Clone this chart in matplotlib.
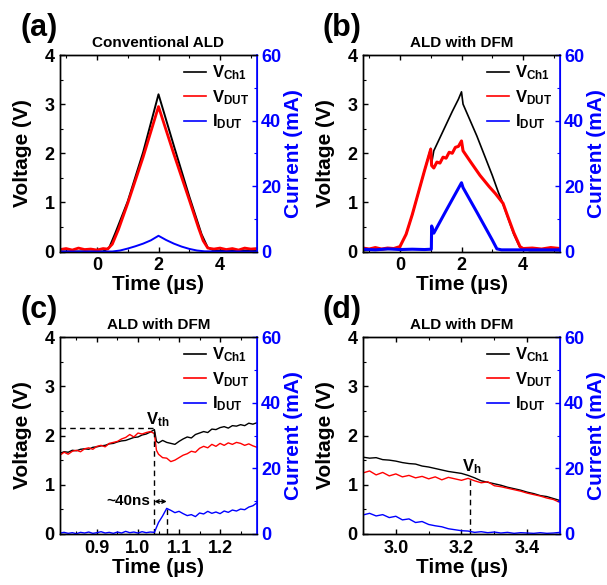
import matplotlib
matplotlib.use('Agg')
import matplotlib.pyplot as plt
from matplotlib.ticker import MultipleLocator
from matplotlib.lines import Line2D

plt.rcParams['font.family'] = ['Liberation Sans', 'DejaVu Sans']
plt.rcParams['font.weight'] = 'bold'
plt.rcParams['mathtext.fontset'] = 'custom'
plt.rcParams['mathtext.rm'] = 'Liberation Sans:bold'
plt.rcParams['mathtext.bf'] = 'Liberation Sans:bold'
plt.rcParams['mathtext.it'] = 'Liberation Sans:bold'

# ---- panel (a): conventional ALD ----
a_t_ch1 = [-1.2, 0.2, 0.4, 0.6, 1.0, 1.5, 2.0, 2.5, 3.0, 3.4, 3.6, 3.8, 5.2]
a_v_ch1 = [0.0, 0.0, 0.08, 0.38, 1.02, 2.02, 3.2, 2.15, 1.12, 0.35, 0.08, 0.02, 0.02]
a_t_dut = [-1.2, -1.0, -0.8, -0.6, -0.4, -0.2, 0.0, 0.2, 0.35, 0.5, 0.7, 1.0, 1.5, 2.0,
           2.5, 3.0, 3.3, 3.45, 3.6, 3.8, 4.0, 4.2, 4.4, 4.6, 4.8, 5.0, 5.2]
a_v_dut = [0.04, 0.06, 0.03, 0.07, 0.04, 0.05, 0.03, 0.06, 0.05, 0.15, 0.45, 0.98, 1.92, 2.95,
           1.98, 1.05, 0.48, 0.22, 0.07, 0.05, 0.07, 0.04, 0.06, 0.03, 0.07, 0.05, 0.06]
a_t_i = [-1.2, 0.5, 0.75, 1.0, 1.25, 1.5, 1.75, 2.0, 2.25, 2.5, 2.75, 3.0, 3.25, 3.5, 5.2]
a_i_dut = [0.0, 0.0, 0.3, 0.9, 1.6, 2.4, 3.4, 4.8, 3.5, 2.4, 1.5, 0.8, 0.3, 0.05, 0.0]

# ---- panel (b): ALD with DFM ----
b_t_ch1 = [-1.2, -0.2, 0.0, 0.2, 0.4, 0.6, 0.8, 1.0, 1.03, 1.1, 1.4, 1.7, 1.9, 2.0, 2.05,
           2.5, 3.0, 3.2, 3.3, 3.5, 3.7, 3.9, 4.2, 5.2]
b_v_ch1 = [0.02, 0.05, 0.1, 0.35, 0.75, 1.2, 1.65, 2.1, 1.8, 2.05, 2.45, 2.85, 3.1, 3.25, 3.0,
           2.35, 1.55, 1.2, 1.05, 0.7, 0.35, 0.08, 0.02, 0.02]
b_t_dut = [-1.2, -1.0, -0.8, -0.6, -0.4, -0.2, 0.0, 0.2, 0.4, 0.6, 0.8, 1.0, 1.03, 1.1, 1.2,
           1.3, 1.4, 1.5, 1.6, 1.7, 1.8, 1.9, 2.0, 2.05, 2.3, 2.6, 2.9, 3.1, 3.25, 3.35, 3.5,
           3.7, 3.9, 4.0, 4.3, 4.6, 4.9, 5.2]
b_v_dut = [0.07, 0.05, 0.08, 0.05, 0.07, 0.06, 0.1, 0.35, 0.75, 1.2, 1.65, 2.08, 1.75, 1.7, 1.82,
           1.8, 1.92, 1.9, 2.02, 2.0, 2.12, 2.14, 2.25, 2.05, 1.82, 1.55, 1.32, 1.18, 1.06, 0.98,
           0.72, 0.38, 0.1, 0.06, 0.07, 0.05, 0.08, 0.06]
b_t_i = [-1.2, -0.8, -0.4, 0.0, 0.4, 0.8, 1.02, 1.03, 1.1, 1.5, 2.0, 2.05, 2.5, 3.0, 3.15,
         3.3, 4.0, 5.2]
b_i_dut = [0.7, 0.5, 0.8, 0.6, 0.7, 0.6, 0.7, 7.8, 5.6, 12.5, 21.0, 19.5, 12.0, 3.5, 0.8,
           0.5, 0.5, 0.5]

# ---- panel (c): zoom on turn-on ----
c_t = [0.81, 0.82, 0.83, 0.84, 0.85, 0.86, 0.87, 0.88, 0.89, 0.90, 0.91, 0.92, 0.93, 0.94,
       0.95, 0.96, 0.97, 0.98, 0.99, 1.00, 1.01, 1.02, 1.03, 1.04, 1.045, 1.05, 1.06, 1.07,
       1.08, 1.09, 1.10, 1.11, 1.12, 1.13, 1.14, 1.15, 1.16, 1.17, 1.18, 1.19, 1.20, 1.21,
       1.22, 1.23, 1.24, 1.25, 1.26, 1.27, 1.28, 1.29]
c_v_ch1 = [1.64, 1.67, 1.66, 1.70, 1.69, 1.72, 1.73, 1.72, 1.76, 1.77, 1.79, 1.80, 1.83, 1.84,
           1.87, 1.89, 1.90, 1.93, 1.96, 1.97, 2.01, 2.03, 2.07, 2.12, 1.88, 1.85, 1.90, 1.86,
           1.84, 1.82, 1.88, 1.93, 1.97, 1.95, 2.02, 2.05, 2.08, 2.06, 2.13, 2.12, 2.16, 2.18,
           2.15, 2.20, 2.19, 2.22, 2.20, 2.25, 2.23, 2.26]
c_v_dut = [1.60, 1.66, 1.62, 1.68, 1.70, 1.67, 1.73, 1.75, 1.72, 1.78, 1.80, 1.77, 1.84, 1.86,
           1.88, 1.93, 1.96, 2.02, 1.97, 2.05, 2.03, 2.06, 2.08, 2.04, 1.70, 1.62, 1.55, 1.54,
           1.47, 1.50, 1.55, 1.60, 1.63, 1.68, 1.66, 1.74, 1.78, 1.75, 1.82, 1.78, 1.84, 1.80,
           1.85, 1.82, 1.86, 1.84, 1.80, 1.83, 1.79, 1.76]
c_i_dut = [0.3, 0.5, 0.2, 0.4, 0.1, 0.5, 0.3, 0.6, 0.2, 0.4, 0.7, 0.3, 0.5, 0.2,
           0.6, 0.3, 0.8, 0.4, 0.6, 0.3, 0.7, 0.4, 0.6, 0.5, 2.0, 3.5, 5.5, 7.8,
           7.2, 6.5, 6.9, 6.2, 5.6, 5.9, 5.3, 6.4, 6.1, 6.9, 6.3, 6.7, 6.2, 7.0,
           6.6, 7.3, 7.0, 7.6, 7.4, 8.2, 8.6, 9.5]

# ---- panel (d): zoom on turn-off ----
d_t = [2.90, 2.92, 2.94, 2.96, 2.98, 3.00, 3.02, 3.04, 3.06, 3.08, 3.10, 3.12, 3.14, 3.16,
       3.18, 3.20, 3.22, 3.24, 3.26, 3.28, 3.30, 3.32, 3.34, 3.36, 3.38, 3.40, 3.42, 3.44,
       3.46, 3.48, 3.50]
d_v_ch1 = [1.56, 1.54, 1.55, 1.51, 1.50, 1.48, 1.45, 1.43, 1.42, 1.38, 1.36, 1.33, 1.30, 1.27,
           1.25, 1.23, 1.19, 1.14, 1.08, 1.05, 1.02, 0.99, 0.95, 0.92, 0.89, 0.85, 0.82, 0.78,
           0.76, 0.72, 0.68]
d_v_dut = [1.24, 1.28, 1.20, 1.25, 1.18, 1.22, 1.16, 1.19, 1.14, 1.17, 1.12, 1.16, 1.10, 1.15,
           1.12, 1.09, 1.13, 1.08, 1.04, 1.06, 0.98, 0.96, 0.93, 0.90, 0.87, 0.83, 0.80, 0.77,
           0.73, 0.70, 0.64]
d_i_dut = [5.8, 6.3, 5.5, 5.9, 5.0, 5.4, 4.3, 4.6, 3.5, 3.8, 2.9, 2.5, 2.2, 1.6,
           1.3, 1.0, 0.9, 0.5, 0.7, 0.4, 0.6, 0.3, 0.5, 0.2, 0.4, 0.3, 0.2, 0.4,
           0.2, 0.3, 0.5]

titles = ['Conventional ALD', 'ALD with DFM', 'ALD with DFM', 'ALD with DFM']
letters = ['(a)', '(b)', '(c)', '(d)']
leg_labels = [r'$\mathbf{V_{Ch1}}$', r'$\mathbf{V_{DUT}}$', r'$\mathbf{I_{DUT}}$']

W, H = 607, 585
fig = plt.figure(figsize=(W / 100, H / 100), dpi=100)

# axes boxes in pixels: left, top, right, bottom
boxes = [(60, 55, 257, 251.5), (363, 55, 560, 251.5),
         (60, 337, 257, 534), (363, 337, 560, 534)]


def make_axes(box):
    l, t, r, b = box
    ax = fig.add_axes([l / W, 1 - b / H, (r - l) / W, (b - t) / H])
    ax2 = ax.twinx()
    return ax, ax2


def style(ax, ax2, xlim, xmaj, xmin, title):
    ax.set_xlim(*xlim)
    ax.set_ylim(0, 4)
    ax2.set_ylim(0, 60)
    ax.xaxis.set_major_locator(MultipleLocator(xmaj))
    ax.xaxis.set_minor_locator(MultipleLocator(xmin))
    ax.yaxis.set_major_locator(MultipleLocator(1))
    ax.yaxis.set_minor_locator(MultipleLocator(0.5))
    ax2.yaxis.set_major_locator(MultipleLocator(20))
    ax2.yaxis.set_minor_locator(MultipleLocator(10))
    ax.tick_params(which='both', direction='in', top=True, labelsize=13, pad=4)
    ax.tick_params(which='major', length=3.5, width=1)
    ax.tick_params(which='minor', length=2, width=0.8)
    ax2.tick_params(which='both', direction='in', colors='blue', labelsize=13, pad=3)
    ax2.tick_params(which='major', length=3.5, width=1)
    ax2.tick_params(which='minor', length=2, width=0.8)
    for sp in ['left', 'top', 'bottom']:
        ax.spines[sp].set_linewidth(1)
        ax2.spines[sp].set_linewidth(1)
    ax.spines['right'].set_color('blue')
    ax2.spines['right'].set_color('blue')
    ax2.spines['right'].set_linewidth(1.2)
    ax.set_xlabel('Time (\u00b5s)', fontsize=15, fontweight='bold', labelpad=1)
    ax.set_ylabel('Voltage (V)', fontsize=15, fontweight='bold', labelpad=9)
    ax2.set_ylabel('Current (mA)', fontsize=15, fontweight='bold', color='blue', labelpad=2)
    ax.set_title(title, fontsize=11, fontweight='bold', pad=6)


# per panel: traces, xlim, major/minor x step, line widths (black, red, blue)
panels = [
    (a_t_ch1, a_v_ch1, a_t_dut, a_v_dut, a_t_i, a_i_dut, (-1.2, 5.2), 2, 1, (1.4, 2.0, 1.4)),
    (b_t_ch1, b_v_ch1, b_t_dut, b_v_dut, b_t_i, b_i_dut, (-1.2, 5.2), 2, 1, (1.2, 2.2, 2.2)),
    (c_t, c_v_ch1, c_t, c_v_dut, c_t, c_i_dut, (0.81, 1.29), 0.1, 0.05, (1.0, 1.0, 1.0)),
    (d_t, d_v_ch1, d_t, d_v_dut, d_t, d_i_dut, (2.9, 3.5), 0.2, 0.1, (1.0, 1.0, 1.0)),
]

axes = []
for k, p in enumerate(panels):
    t1, v1, t2, v2, t3, i3, xlim, xmaj, xmin, lws = p
    ax, ax2 = make_axes(boxes[k])
    ax.plot(t1, v1, color='black', lw=lws[0])
    ax.plot(t2, v2, color='red', lw=lws[1])
    ax2.plot(t3, i3, color='blue', lw=lws[2])
    style(ax, ax2, xlim, xmaj, xmin, titles[k])
    handles = [Line2D([], [], color=c, lw=1.2) for c in ['black', 'red', 'blue']]
    ax2.legend(handles, leg_labels, loc='upper right', frameon=False,
               fontsize=12, handlelength=1.3, handletextpad=0.35, labelspacing=0.35,
               borderaxespad=0.3, borderpad=0.2)
    axes.append((ax, ax2))
    l, t, r, b = boxes[k]
    fig.text((l - 40) / W, 1 - (t - 27) / H, letters[k], fontsize=22, fontweight='bold',
             ha='left', va='center')

# annotations in (c)
ax = axes[2][0]
ax.plot([0.81, 1.04], [2.15, 2.15], color='black', lw=1, ls=(0, (4, 3)))
ax.plot([1.04, 1.04], [0, 2.15], color='black', lw=1, ls=(0, (4, 3)))
ax.plot([1.07, 1.07], [0, 0.5], color='black', lw=1, ls=(0, (4, 3)))
ax.annotate('', xy=(1.04, 0.66), xytext=(1.07, 0.66),
            arrowprops=dict(arrowstyle='<->', lw=1, color='black',
                            shrinkA=0, shrinkB=0, mutation_scale=6))
ax.text(1.03, 0.66, '~40ns', fontsize=11, fontweight='bold', ha='right', va='center')
ax.text(1.047, 2.32, r'$\mathbf{V_{th}}$', fontsize=12, ha='center', va='center')

# annotations in (d)
ax = axes[3][0]
ax.plot([3.225, 3.225], [0, 1.13], color='black', lw=1, ls=(0, (4, 3)))
ax.text(3.232, 1.37, r'$\mathbf{V_{h}}$', fontsize=12, ha='center', va='center')

fig.savefig('out.png', dpi=100)
